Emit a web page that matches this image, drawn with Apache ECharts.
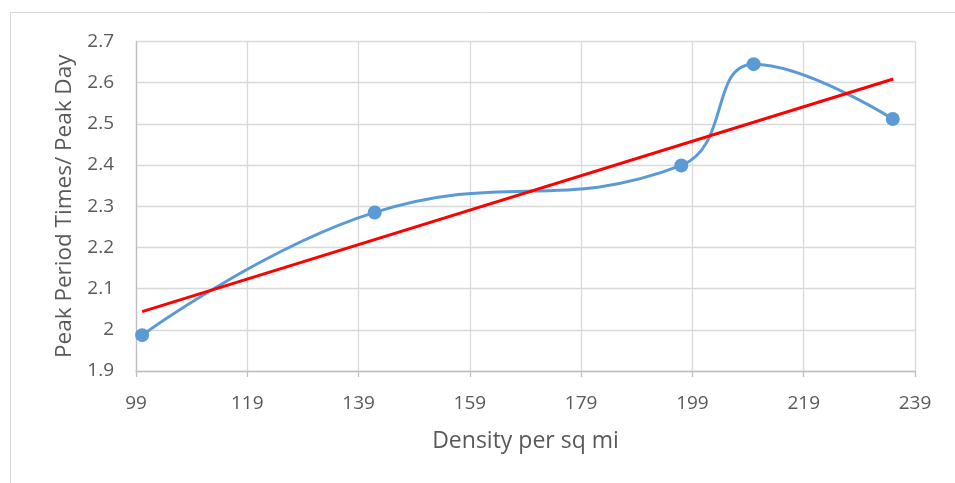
<!DOCTYPE html>
<html>
<head>
<meta charset="utf-8">
<script src="https://cdn.jsdelivr.net/npm/echarts@6/dist/echarts.min.js"></script>
<style>
  html, body { margin: 0; padding: 0; background: #fff; }
  #chart { width: 955px; height: 483px; }
</style>
</head>
<body>
<div id="chart"></div>
<script>
// Observed peak-period ratio against density
const density = [100.1, 141.9, 197.0, 210.0, 235.0];
const peakRatio = [1.987, 2.285, 2.399, 2.645, 2.512];

// Linear trend line endpoints
const trendX = [100.1, 235.1];
const trendY = [2.044, 2.609];

// Axis settings
const xMin = 99, xMax = 239, xStep = 20;
const yMin = 1.9, yMax = 2.7, yStep = 0.1;

const xAxisTitle = 'Density per sq mi';
const yAxisTitle = 'Peak Period Times/ Peak Day';

const textColor = '#595959';
const font = 'Open Sans';

const chart = echarts.init(document.getElementById('chart'));
chart.setOption({
  animation: false,
  backgroundColor: '#fff',
  graphic: [{
    type: 'rect',
    shape: { x: 10.5, y: 12.5, width: 960, height: 480 },
    style: { fill: 'none', stroke: '#d9d9d9', lineWidth: 1 },
    silent: true
  }],
  grid: { left: 136, right: 40, top: 41.5, bottom: 112, containLabel: false },
  xAxis: {
    type: 'value',
    min: xMin, max: xMax, interval: xStep,
    name: xAxisTitle,
    nameLocation: 'middle',
    nameGap: 59,
    nameTextStyle: { color: textColor, fontFamily: font, fontSize: 23 },
    axisLine: { show: true, lineStyle: { color: '#bfbfbf', width: 1.3 } },
    axisTick: { show: true, length: 6, lineStyle: { color: '#bfbfbf', width: 1.3 } },
    axisLabel: { color: textColor, fontFamily: font, fontSize: 19, margin: 23 },
    splitLine: { show: true, lineStyle: { color: '#d9d9d9', width: 1.3 } }
  },
  yAxis: {
    type: 'value',
    min: yMin, max: yMax, interval: yStep,
    name: yAxisTitle,
    nameLocation: 'middle',
    nameGap: 60,
    nameRotate: 90,
    nameTextStyle: { color: textColor, fontFamily: font, fontSize: 22.5 },
    axisLine: { show: true, lineStyle: { color: '#bfbfbf', width: 1.3 } },
    axisTick: { show: false },
    axisLabel: {
      color: textColor, fontFamily: font, fontSize: 19, margin: 22,
      formatter: v => String(Math.round(v * 10) / 10)
    },
    splitLine: { show: true, lineStyle: { color: '#d9d9d9', width: 1.3 } }
  },
  series: [
    {
      type: 'line',
      data: density.map((x, i) => [x, peakRatio[i]]),
      smooth: 0.45,
      symbol: 'circle',
      symbolSize: 14,
      lineStyle: { color: '#5b9bd5', width: 3 },
      itemStyle: { color: '#5b9bd5' },
      z: 3
    },
    {
      type: 'line',
      data: trendX.map((x, i) => [x, trendY[i]]),
      symbol: 'none',
      lineStyle: { color: '#ff0000', width: 3 },
      z: 4
    }
  ]
});
</script>
</body>
</html>
